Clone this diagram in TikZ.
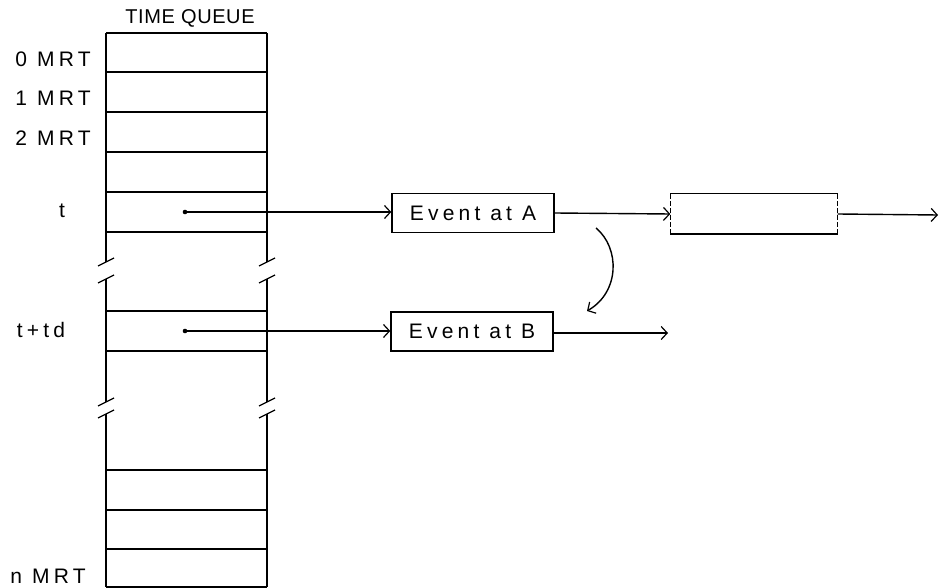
\documentclass[tikz,border=0pt]{standalone}
\usepackage{fontspec}
\newfontfamily\plotfont{Liberation Sans}[LetterSpace=20]
\newfontfamily\titlefont{Liberation Sans}[LetterSpace=3]
\usetikzlibrary{arrows.meta}
\begin{document}
\begin{tikzpicture}[x=1pt,y=-1pt,
  line width=1.4pt,
  every node/.style={font=\plotfont\fontsize{21}{25}\selectfont},
  lbl/.style={inner sep=0pt},
  evbox/.style={draw, minimum width=162pt, minimum height=39pt, inner sep=0pt},
  emptybox/.style={minimum width=166pt, minimum height=39pt, inner sep=0pt},
  tip/.style={-{Straight Barb[length=6pt,width=13pt,line width=1.2pt]}},
  brk/.style={line width=1.3pt},
  sidedash/.style={dash pattern=on 5pt off 2pt},
]
\useasboundingbox (0,0) rectangle (945,588);

% labels
\node[lbl, font=\titlefont\fontsize{20}{24}\selectfont] (tq) at (190,18) {TIME QUEUE};
\node[lbl] (m0) at (53,59) {0 MRT};
\node[lbl] (m1) at (53,98) {1 MRT};
\node[lbl] (m2) at (53,138) {2 MRT};
\node[lbl] (lt) at (62,211) {t};
\node[lbl] (ltd) at (41,330) {t+td};
\node[lbl] (mn) at (48,576) {n MRT};

% queue horizontals
\foreach \yy in {33,72,112,152,192,232,311,351,470,510,549,587}
  \draw (106,\yy) -- (267,\yy);

% queue verticals with breaks
\foreach \xx in {106,267} {
  \draw (\xx,33) -- (\xx,262);
  \draw (\xx,279) -- (\xx,402);
  \draw (\xx,414) -- (\xx,587);
  \foreach \yy in {262,279,402,414}
    \draw[brk] (\xx-8,\yy+4) -- (\xx+8,\yy-4);
}

% pointers
\coordinate (dt) at (185,212);
\coordinate (dtd) at (185,331);
\fill (dt) circle (2.3pt);
\fill (dtd) circle (2.3pt);

\node[evbox] (ea) at (473,213) {Event at A};
\node[evbox] (eb) at (472,331.5) {Event at B};
\node[emptybox] (ec) at (754,214) {};

\draw[tip] (dt) -- (dt -| ea.west);
\draw[tip] (dtd) -- (dtd -| eb.west);

\draw (ec.north west) -- (ec.north east);
\draw (ec.south west) -- (ec.south east);
\draw[sidedash] (ec.north west) -- (ec.south west);
\draw[sidedash] (ec.north east) -- (ec.south east);

\draw[tip] (ea.east) -- (ec.west);
\coordinate (cout) at (938,215);
\draw[tip] (ec.east) -- (cout);

\coordinate (bout) at (668,333);
\draw[tip] (eb.east |- bout) -- (bout);

\coordinate (cs) at (596,228);
\coordinate (ce) at (587,311);
\draw[tip] (cs) .. controls (620,248) and (620,292) .. (ce);
\end{tikzpicture}
\end{document}
